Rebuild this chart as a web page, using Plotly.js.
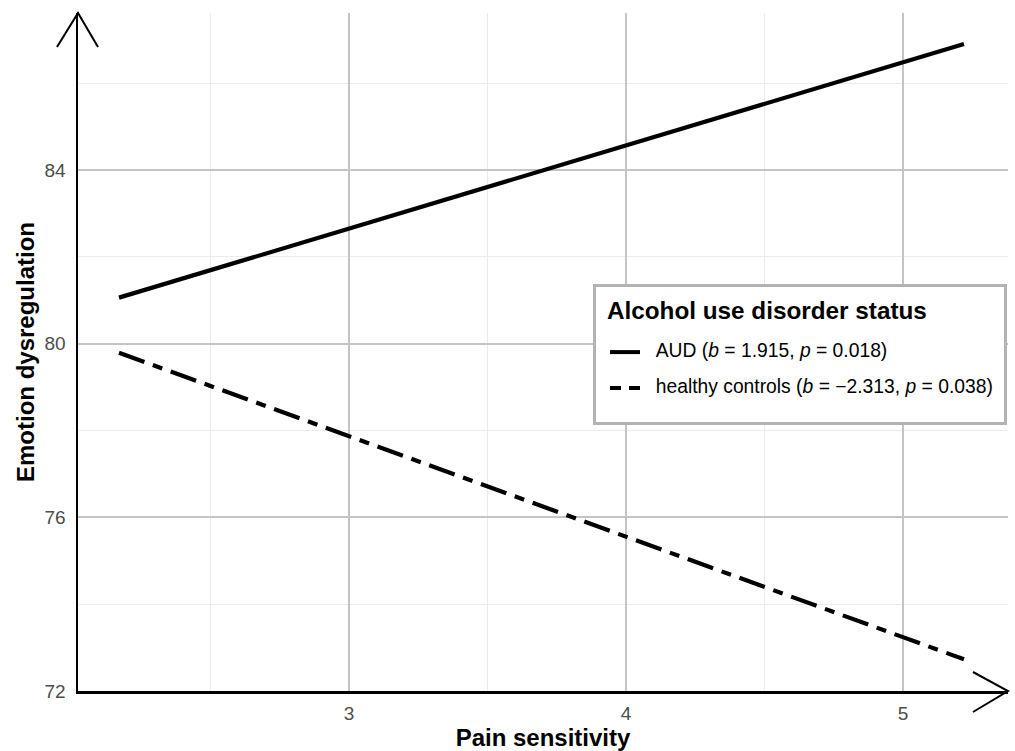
<!DOCTYPE html>
<html>
<head>
<meta charset="utf-8">
<script src="https://cdn.plot.ly/plotly-3.0.1.min.js"></script>
<style>html,body{margin:0;padding:0;background:#fff;}#chart{width:1015px;height:751px;}</style>
</head>
<body>
<div id="chart"></div>
<script>
// Data
var painSensitivity = [2.17, 5.22];
var audValues = [81.06, 86.90];
var controlValues = [79.79, 72.73];
var seriesNames = [
  'AUD (<i>b</i> = 1.915, <i>p</i> = 0.018)',
  'healthy controls (<i>b</i> = \u22122.313, <i>p</i> = 0.038)'
];
var legendTitle = 'Alcohol use disorder status';
var xTickVals = [3, 4, 5];
var yTickVals = [72, 76, 80, 84];

var FONT = 'Liberation Sans, Arial, sans-serif';
function itemLabel(s){
  return '<span style="font-size:19.3px">&nbsp;&nbsp;' + s + '&nbsp;</span>';
}
function spacer(group){
  return {x: [null], y: [null], mode: 'lines', name: '&nbsp;', legendgroup: group,
          line: {color: 'rgba(0,0,0,0)', width: 0}, hoverinfo: 'skip'};
}

var traces = [
  {x: painSensitivity, y: audValues, mode: 'lines', showlegend: false,
   line: {color: '#000', width: 4.2}, hoverinfo: 'skip'},
  {x: painSensitivity, y: controlValues, mode: 'lines', showlegend: false,
   line: {color: '#000', width: 4.2, dash: '27px,9px,10px,9px'}, hoverinfo: 'skip'},
  spacer('a'),
  {x: [null], y: [null], mode: 'lines', name: itemLabel(seriesNames[0]), legendgroup: 'a',
   line: {color: '#000', width: 4}},
  {x: [null], y: [null], mode: 'lines', name: itemLabel(seriesNames[1]), legendgroup: 'b',
   line: {color: '#000', width: 4, dash: '11px,8px'}},
  spacer('b')
];

var W = 930, H = 678;
function px(v){ return v / W; }
function py(v){ return v / H; }

var layout = {
  width: 1015, height: 751,
  margin: {l: 78, r: 7, t: 13, b: 60, pad: 0},
  paper_bgcolor: '#fff', plot_bgcolor: '#fff',
  font: {family: FONT, color: '#000'},
  xaxis: {
    range: [2.022, 5.379], tickvals: xTickVals, ticktext: xTickVals.map(String),
    showgrid: true, gridcolor: '#c4c4c4', gridwidth: 2,
    minor: {tickvals: [2.5, 3.5, 4.5], showgrid: true, gridcolor: '#ebebeb', gridwidth: 1, ticks: ''},
    showline: true, linecolor: '#000', linewidth: 2.5, zeroline: false,
    ticks: '', ticklen: 0, ticklabelstandoff: 4,
    tickfont: {size: 19, color: '#4d4d4d', family: FONT},
    title: {text: '<b>Pain sensitivity</b>', standoff: 6,
            font: {size: 24, color: '#000', family: FONT}}
  },
  yaxis: {
    range: [72.0, 87.615], tickvals: yTickVals, ticktext: yTickVals.map(String),
    showgrid: true, gridcolor: '#c4c4c4', gridwidth: 2,
    minor: {tickvals: [74, 78, 82, 86], showgrid: true, gridcolor: '#ebebeb', gridwidth: 1, ticks: ''},
    showline: true, linecolor: '#000', linewidth: 2.5, zeroline: false,
    ticks: '', ticklen: 0, ticklabelstandoff: 6,
    tickfont: {size: 19, color: '#4d4d4d', family: FONT},
    title: {text: '<b>Emotion dysregulation</b>', standoff: 3,
            font: {size: 24, color: '#000', family: FONT}}
  },
  legend: {
    x: px(593 - 78), y: py(691 - 284), xanchor: 'left', yanchor: 'top',
    bgcolor: '#fff', bordercolor: '#b3b3b3', borderwidth: 3,
    traceorder: 'grouped', tracegroupgap: 17, indentation: 9,
    font: {size: 12, color: '#000', family: FONT},
    title: {text: '<span style="font-size:32px">&nbsp;</span><b>' + legendTitle + '</b>',
            font: {size: 24.3, color: '#000', family: FONT}},
    itemwidth: 30
  },
  shapes: [
    {type: 'path', xref: 'paper', yref: 'paper',
     path: 'M ' + px(-21) + ',' + (1 - py(34)) + ' L 0,1 L ' + px(20) + ',' + (1 - py(34)),
     line: {color: '#000', width: 2}},
    {type: 'path', xref: 'paper', yref: 'paper',
     path: 'M ' + (1 - px(35)) + ',' + py(19) + ' L 1,0 L ' + (1 - px(35)) + ',' + py(-21),
     line: {color: '#000', width: 2}}
  ]
};

Plotly.newPlot('chart', traces, layout, {displayModeBar: false, staticPlot: true});
</script>
</body>
</html>
